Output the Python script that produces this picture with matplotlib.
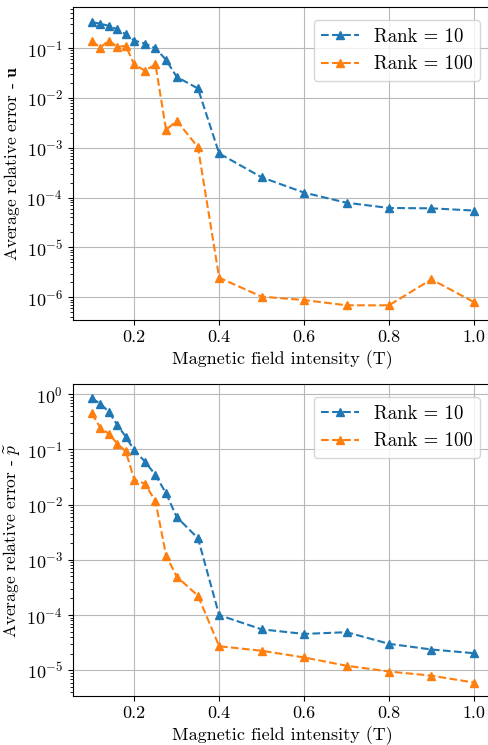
import matplotlib
matplotlib.use("Agg")
import matplotlib.pyplot as plt

plt.rcParams["font.family"] = "serif"
plt.rcParams["font.serif"] = ["cmr10", "DejaVu Serif"]
plt.rcParams["mathtext.fontset"] = "cm"
plt.rcParams["axes.formatter.use_mathtext"] = True
plt.rcParams["font.size"] = 13

# magnetic field intensity (T)
field = [0.1, 0.12, 0.14, 0.16, 0.18, 0.2, 0.225, 0.25, 0.275, 0.3, 0.35,
         0.4, 0.5, 0.6, 0.7, 0.8, 0.9, 1.0]

# average relative error on u
u_rank10 = [0.333, 0.31, 0.28, 0.24, 0.19, 0.142, 0.124, 0.1, 0.058, 0.0265,
            0.0155, 7.7e-4, 2.56e-4, 1.26e-4, 7.9e-5, 6.2e-5, 6.1e-5, 5.5e-5]
u_rank100 = [0.138, 0.103, 0.142, 0.106, 0.111, 0.047, 0.0355, 0.047, 0.00227,
             0.0035, 0.00103, 2.47e-6, 1.03e-6, 8.8e-7, 6.9e-7, 6.9e-7, 2.29e-6, 8.0e-7]

# average relative error on p~
p_rank10 = [0.845, 0.675, 0.483, 0.277, 0.17, 0.097, 0.0605, 0.0345, 0.016,
            0.00595, 0.00247, 1.0e-4, 5.52e-5, 4.56e-5, 4.9e-5, 3.02e-5, 2.38e-5, 2.04e-5]
p_rank100 = [0.452, 0.247, 0.192, 0.128, 0.092, 0.0285, 0.024, 0.0115, 0.0012,
             4.97e-4, 2.24e-4, 2.73e-5, 2.26e-5, 1.71e-5, 1.21e-5, 9.5e-6, 8.0e-6, 6.0e-6]

labels = ["Rank = 10", "Rank = 100"]

fig = plt.figure(figsize=(4.89, 7.45), dpi=100)
W, H = 489.0, 745.0
ax1 = fig.add_axes([72.7 / W, 1 - 320 / H, (493 - 72.7) / W, (320 - 7.3) / H])
ax2 = fig.add_axes([72.7 / W, 1 - 695.7 / H, (493 - 72.7) / W, (695.7 - 384.3) / H])

panels = [
    (ax1, u_rank10, u_rank100, r"Average relative error - $\mathbf{u}$", (10 ** -6.456, 10 ** -0.18)),
    (ax2, p_rank10, p_rank100, r"Average relative error - $\widetilde{p}$", (10 ** -5.46, 10 ** 0.18)),
]

for ax, r10, r100, ylabel, ylim in panels:
    ax.plot(field, r10, linestyle="--", marker="^", color="#1f77b4", markersize=6, label=labels[0])
    ax.plot(field, r100, linestyle="--", marker="^", color="#ff7f0e", markersize=6, label=labels[1])
    ax.set_yscale("log")
    ax.set_ylim(*ylim)
    ax.set_xlim(0.055, 1.045)
    ax.set_xticks([0.2, 0.4, 0.6, 0.8, 1.0])
    ax.set_xticklabels(["0.2", "0.4", "0.6", "0.8", "1.0"])
    ax.set_xlabel("Magnetic field intensity (T)")
    ax.set_ylabel(ylabel, fontsize=12.5, labelpad=3)
    ax.grid(True, which="major", color="#b8b8b8", linewidth=0.8)
    ax.legend(loc="upper right", fontsize=13.5, borderaxespad=0.7)

fig.savefig("out.png", dpi=100)
